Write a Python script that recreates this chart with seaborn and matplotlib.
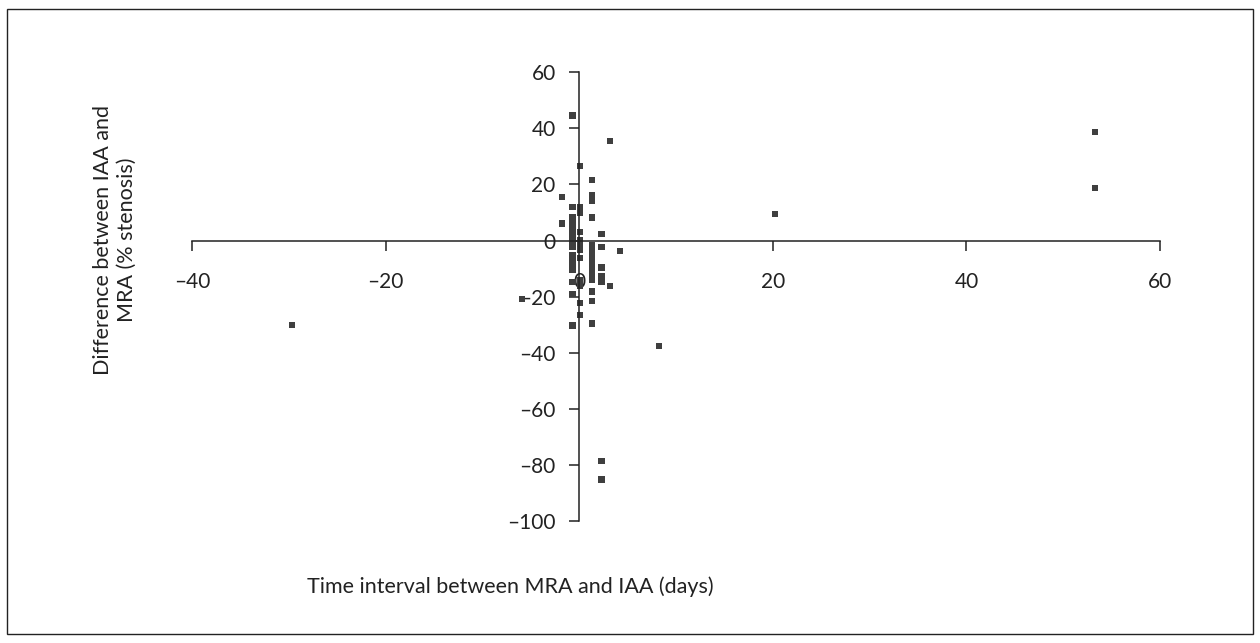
import matplotlib
matplotlib.use("Agg")
import matplotlib.pyplot as plt
import seaborn as sns
import pandas as pd
from matplotlib.patches import Rectangle

# Data (days, % stenosis difference)
time_interval = [
    -29.7, 20.2, 53.3, 53.3, 8.2, -5.9,
    # column near -1.8
    -1.8, -1.8,
    # column near -0.7
    -0.7, -0.7, -0.7, -0.7, -0.7, -0.7, -0.7, -0.7, -0.7, -0.7, -0.7,
    -0.7, -0.7, -0.7, -0.7, -0.7, -0.7, -0.7,
    # column near 0.1
    0.1, 0.1, 0.1, 0.1, 0.1, 0.1, 0.1, 0.1, 0.1, 0.1, 0.1, 0.1, 0.1,
    # column near 1.3
    1.3, 1.3, 1.3, 1.3, 1.3, 1.3, 1.3, 1.3, 1.3, 1.3, 1.3, 1.3, 1.3,
    1.3, 1.3, 1.3, 1.3,
    # column near 2.3
    2.3, 2.3, 2.3, 2.3, 2.3, 2.3, 2.3,
    # columns near 3.2 and 4.2
    3.2, 3.2, 4.2,
]
difference = [
    -30.2, 9.4, 38.6, 18.6, -37.7, -20.7,
    15.4, 6.1,
    44.6, 11.9, 8.4, 6.6, 4.9, 1.0, 0.0, -1.0, -2.3, -5.3, -6.6,
    -8.0, -9.3, -10.5, -14.8, -19.0, -30.3, 3.0,
    26.6, 11.8, 9.8, 3.1, 0.0, -0.4, -3.3, -6.3, -14.0, -16.3, -22.2, -26.6, -2.0,
    21.5, 16.2, 14.1, 8.2, -1.8, -3.0, -4.3, -5.6, -6.9, -8.2, -9.6, -11.8, -14.0,
    -18.2, -21.6, -29.6, -12.9,
    2.2, -2.3, -9.6, -12.5, -14.7, -78.6, -85.2,
    35.4, -16.3, -3.8,
]

df = pd.DataFrame({"time": time_interval, "diff": difference})

x_ticks = [-40, -20, 0, 20, 40, 60]
y_ticks = [-100, -80, -60, -40, -20, 0, 20, 40, 60]

sns.set_style("white")
plt.rcParams["font.family"] = ["Lato", "DejaVu Sans"]

fig = plt.figure(figsize=(12.6, 6.43), dpi=100)
ax = fig.add_axes([0.1526, 0.1897, 0.7680, 0.6979])

sns.scatterplot(data=df, x="time", y="diff", ax=ax, marker="s", s=20,
                color="#3f3f3f", edgecolor="none", linewidth=0)

ax.set_xlim(-40, 60)
ax.set_ylim(-100, 60)
ax.set_xticks(x_ticks)
ax.set_yticks(y_ticks)
ax.set_xticklabels([f"\u2013{abs(v)}" if v < 0 else str(v) for v in x_ticks])
ax.set_yticklabels([f"\u2013{abs(v)}" if v < 0 else str(v) for v in y_ticks])

ax.spines["left"].set_position(("data", 0))
ax.spines["bottom"].set_position(("data", 0))
ax.spines["top"].set_visible(False)
ax.spines["right"].set_visible(False)
for sp in ("left", "bottom"):
    ax.spines[sp].set_color("#222222")
    ax.spines[sp].set_linewidth(1.1)
ax.spines["bottom"].set_bounds(-40, 60)
ax.spines["left"].set_bounds(-100, 60)

ax.tick_params(axis="x", direction="out", length=7, width=1.1, color="#222222",
               pad=16, labelsize=15, labelcolor="#222222", bottom=True)
ax.tick_params(axis="y", direction="out", length=7, width=1.1, color="#222222",
               pad=10, labelsize=15, labelcolor="#222222", left=True)
ax.set_xlabel("")
ax.set_ylabel("")
ax.patch.set_alpha(0)

fig.text(510 / 1260, 1 - 587 / 643, "Time interval between MRA and IAA (days)",
         ha="center", va="center", fontsize=15.5, color="#222222")
fig.text(115 / 1260, 1 - 240 / 643, "Difference between IAA and\nMRA (% stenosis)",
         ha="center", va="center", rotation=90, fontsize=15.5, color="#222222",
         linespacing=1.2)

fig.patches.append(Rectangle((7 / 1260, 1 - 634 / 643), 1246 / 1260, 625 / 643,
                             transform=fig.transFigure, fill=False,
                             edgecolor="#222222", linewidth=1.0))

fig.savefig("out.png", dpi=100)
